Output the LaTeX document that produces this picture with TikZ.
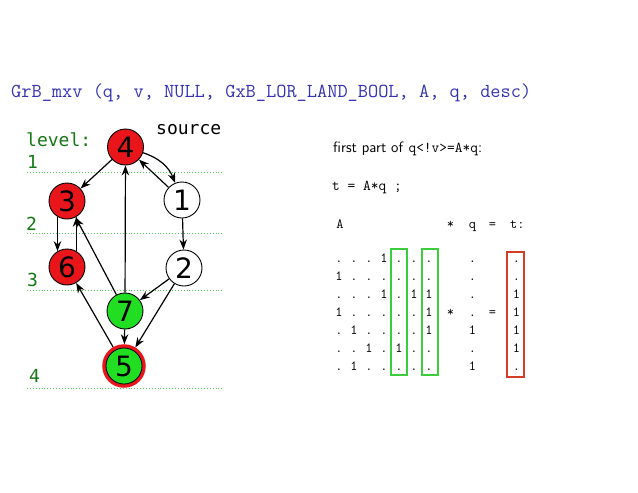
\documentclass[tikz,border=0pt]{standalone}
\usepackage{fontspec}
\newfontfamily\djsans{DejaVu Sans}
\newfontfamily\djmono{DejaVu Sans Mono}
\usetikzlibrary{arrows.meta}
\definecolor{vred}{RGB}{232,22,26}
\definecolor{vgreen}{RGB}{34,222,34}
\definecolor{lvlgreen}{RGB}{90,200,90}
\definecolor{lblgreen}{RGB}{20,120,20}
\definecolor{boxgreen}{RGB}{60,205,60}
\definecolor{boxred}{RGB}{212,60,40}
\definecolor{titleblue}{RGB}{51,51,179}
\tikzset{
  vtx/.style={circle, draw=black, line width=0.9pt, minimum size=36pt, inner sep=0pt,
    font=\djsans\fontsize{28}{28}\selectfont},
  redv/.style={vtx, fill=vred},
  grnv/.style={vtx, fill=vgreen},
  whtv/.style={vtx, fill=white},
  edge/.style={-{Stealth[length=10pt,width=7.5pt]}, line width=1.2pt},
  lvl/.style={draw=lvlgreen, dotted, line width=0.9pt},
  lbl/.style={anchor=base west, inner sep=0pt, font=\djmono\fontsize{18}{18}\selectfont, text=lblgreen},
  mtx/.style={anchor=base, inner sep=0pt, font=\ttfamily\fontsize{14}{14}\selectfont},
  hl/.style={line width=2pt}
}
\begin{document}
\begin{tikzpicture}[x=1pt,y=-1pt]
\useasboundingbox (0,0) rectangle (638,493);
% title
\node[anchor=base west, inner sep=0pt, text=titleblue, font=\ttfamily\fontsize{19.8}{19.8}\selectfont]
  (title) at (11,97) {GrB\_mxv (q, v, NULL, GxB\_LOR\_LAND\_BOOL, A, q, desc)};
% level lines
\draw[lvl] (27,172) -- (222,172);
\draw[lvl] (27,233) -- (222,233);
\draw[lvl] (27,290) -- (222,290);
\draw[lvl] (27,388) -- (222,388);
% labels
\node[lbl] (lvltxt) at (26,146) {level:};
\node[lbl] (l1) at (27,168) {1};
\node[lbl] (l2) at (26,230) {2};
\node[lbl] (l3) at (27,286) {3};
\node[lbl] (l4) at (29,382) {4};
\node[lbl, text=black] (src) at (156,134) {source};
% vertices
\node[redv] (n4) at (125.5,147) {4};
\node[redv] (n3) at (67,201) {3};
\node[whtv] (n1) at (182,200) {1};
\node[redv] (n6) at (67,267) {6};
\node[whtv] (n2) at (184,268) {2};
\node[grnv] (n7) at (125,311) {7};
\node[grnv, draw=vred, line width=3.5pt, minimum size=40pt] (n5) at (124,366) {5};
\draw[black, line width=0.8pt] (n5.center) circle[radius=18pt];
% edges
\draw[edge] (n4) -- (n3);
\draw[edge] (n4) to[bend left=25] (n1);
\draw[edge] (n1) -- (n4);
\draw[edge] (n3.239) -- (n6.121);
\draw[edge] (n6.59) -- (n3.301);
\draw[edge] (n7) -- (n3);
\draw[edge] (n7) -- (n4);
\draw[edge] (n1) -- (n2);
\draw[edge] (n2) -- (n7);
\draw[edge] (n2) -- (n5);
\draw[edge] (n7) -- (n5);
\draw[edge] (n5) -- (n6);
% right text
\node[anchor=base west, inner sep=0pt, font=\sffamily\fontsize{15}{15}\selectfont]
  (t1) at (333,152) {first part of \texttt{q<!v>=A*q}:};
\node[anchor=base west, inner sep=0pt, font=\ttfamily\fontsize{15}{15}\selectfont]
  (t2) at (332,190) {t = A*q ;};
% header
\node[mtx] (hA) at (340,228) {A};
\node[mtx] (hs) at (450.5,228) {*};
\node[mtx] (hq) at (472.5,228) {q};
\node[mtx] (he) at (492.5,228) {=};
\node[mtx, anchor=base west] (ht) at (510,228) {t:};
% matrix
\foreach \r [count=\i] in {
  {.,.,.,1,.,.,.,.,.},
  {1,.,.,.,.,.,.,.,.},
  {.,.,.,1,.,1,1,.,1},
  {1,.,.,.,.,.,1,.,1},
  {.,1,.,.,.,.,1,1,1},
  {.,.,1,.,1,.,.,.,1},
  {.,1,.,.,.,.,.,1,.}} {
  \foreach \e [count=\j] in \r {
    \pgfmathsetmacro{\xx}{{339,354,369,384,399,414,429,472.5,516.5}[\j-1]}
    \node[mtx] (m-\i-\j) at (\xx,{262+18*(\i-1)}) {\e};
  }
}
\node[mtx] (mstar) at (450.5,316) {*};
\node[mtx] (meq) at (492.5,316) {=};
% highlight boxes
\draw[hl, draw=boxgreen] (390.7,249.3) rectangle (407.3,375);
\draw[hl, draw=boxgreen] (421.7,249.3) rectangle (438.3,375);
\draw[hl, draw=boxred] (506.7,251.7) rectangle (524,376.7);
\end{tikzpicture}
\end{document}
